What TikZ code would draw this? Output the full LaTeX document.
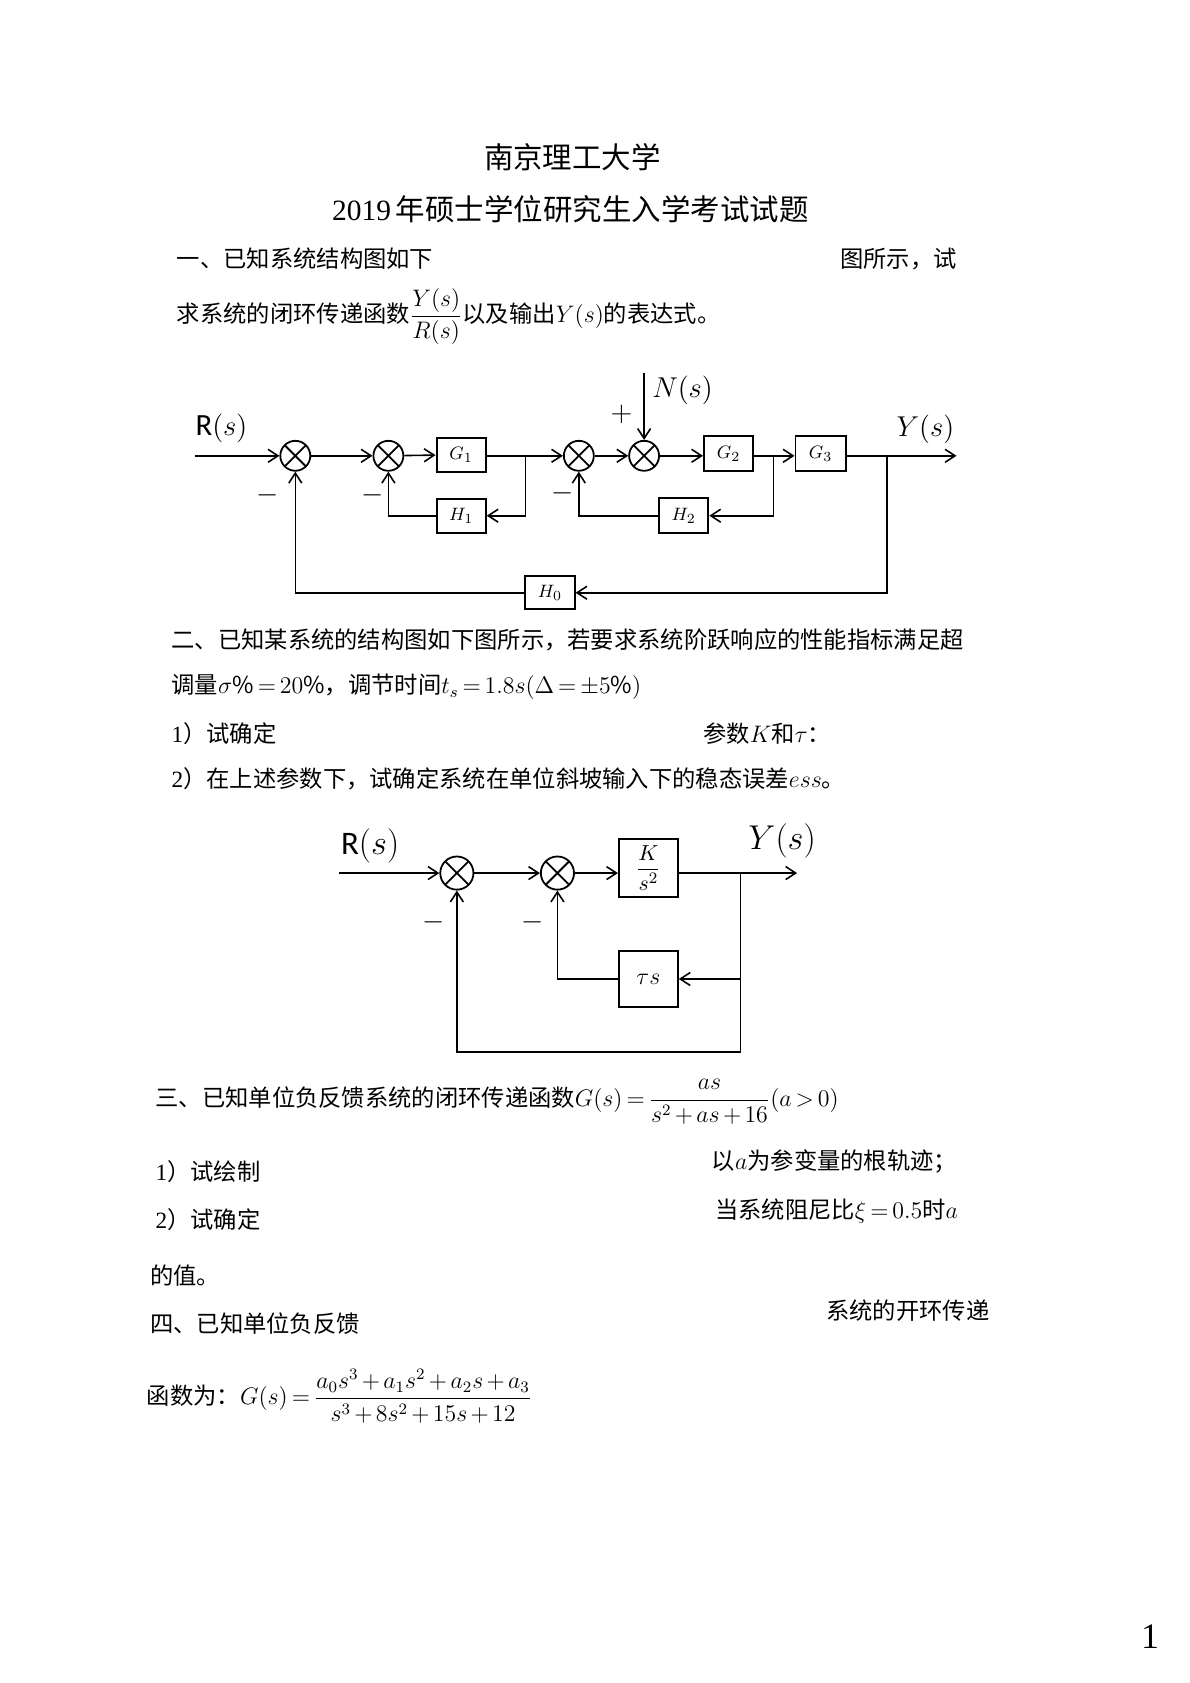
\documentclass[tikz,border=0pt]{standalone}
\usepackage{amsmath}
\usepackage{fontspec}
\setmainfont{Noto Sans CJK SC}
\newfontfamily\tnr{Liberation Serif}
\newfontfamily\carl{Carlito}
\usetikzlibrary{arrows.meta}
\newlength\pxu
\setlength\pxu{0.18885mm}
\thickmuskip=3mu plus 2mu
\medmuskip=2.5mu plus 1mu minus 1mu
\tikzset{
  x=0.18885mm, y=-0.18885mm,
  txt/.style={anchor=west, inner sep=0pt, font=\fontsize{11.7}{14}\selectfont},
  ttl/.style={inner sep=0pt, font=\fontsize{14.8}{17}\selectfont},
  wire/.style={line width=0.8pt},
  arr/.style={wire, -{Straight Barb[length=5pt,width=6.5pt,line width=0.8pt]}},
  blk/.style={draw, line width=1pt, inner sep=0pt, font=\fontsize{9.5}{11}\selectfont},
  sumj/.style={circle, draw, line width=0.9pt, inner sep=0pt, minimum size=#1\pxu,
    path picture={\draw[line width=0.9pt] (path picture bounding box.north west)--(path picture bounding box.south east)
      (path picture bounding box.north east)--(path picture bounding box.south west);}},
  sumj/.default=28,
  lbl/.style={inner sep=0pt, font=\fontsize{15.5}{18}\selectfont},
  mns/.style={inner sep=0pt, font=\fontsize{14}{16}\selectfont},
}
\begin{document}
\begin{tikzpicture}
\useasboundingbox[fill=white] (0,0) rectangle (1112,1573);

% ---------- titles ----------
\node[ttl] (t1) at (535,147) {南京理工大学};
\node[ttl] (t2) at (533,196) {{\tnr 2019}\,年硕士学位研究生入学考试试题};

% ---------- question 1 ----------
\node[txt] (q1a) at (165,242) {一、已知系统结构图如下};
\node[txt] (q1b) at (785,242) {图所示，试};
\node[txt] (q1c) at (165,296) {求系统的闭环传递函数$\dfrac{Y(s)}{R(s)}$以及输出$Y(s)$的表达式。};

% diagram 1
\coordinate (in1) at (182,426);
\node[sumj] (s1) at (276,426) {};
\node[sumj] (s2) at (363,426) {};
\node[blk, minimum width=46\pxu, minimum height=32\pxu] (g1) at (431,425) {$G_1$};
\coordinate (b1) at (491,426);
\node[sumj] (s3) at (541,426) {};
\node[sumj] (s4) at (602,426) {};
\coordinate (ntop) at (602,349);
\node[blk, minimum width=46\pxu, minimum height=33\pxu] (g2) at (681,424) {$G_2$};
\coordinate (b2) at (723,426);
\node[blk, minimum width=47\pxu, minimum height=33\pxu] (g3) at (767,424) {$G_3$};
\coordinate (b3) at (829,426);
\coordinate (out1) at (894,426);
\node[blk, minimum width=46\pxu, minimum height=32\pxu] (h1) at (431,482) {$H_1$};
\node[blk, minimum width=46\pxu, minimum height=33\pxu] (h2) at (639,482) {$H_2$};
\node[blk, minimum width=46\pxu, minimum height=31\pxu] (h0) at (514,554) {$H_0$};

\draw[arr] (in1) -- (s1);
\draw[arr] (s1) -- (s2);
\draw[arr] (s2) -- (g1);
\draw[arr] (g1.east |- b1) -- (s3);
\draw[arr] (s3) -- (s4);
\draw[arr] (ntop) -- (s4);
\draw[arr] (s4) -- (g2.west |- s4);
\draw[arr] (g2.east |- b2) -- (g3.west |- b2);
\draw[arr] (g3.east |- b3) -- (out1);
\draw[arr] (b1) |- (h1.east);
\draw[arr] (h1.west) -| (s2.south);
\draw[arr] (b2) |- (h2.east);
\draw[arr] (h2.west) -| (s3.south);
\draw[arr] (b3) |- (h0.east);
\draw[arr] (h0.west) -| (s1.south);

\node[lbl] (rl1) at (207,400) {{\carl R}$(s)$};
\node[lbl] (yl1) at (865,401) {$Y(s)$};
\node[lbl] (nl1) at (638,365) {$N(s)$};
\node[mns] (p4) at (581,387) {$+$};
\node[mns] (m1) at (250,463) {$-$};
\node[mns] (m2) at (348,463) {$-$};
\node[mns] (m3) at (526,461) {$-$};

% ---------- question 2 ----------
\node[txt] (q2a) at (160,598) {二、已知某系统的结构图如下图所示，若要求系统阶跃响应的性能指标满足超};
\node[txt] (q2b) at (160,642) {调量$\sigma\%=20\%$，调节时间$t_s=1.8s(\Delta=\pm5\%)$};
\node[txt] (q2c) at (160,686) {{\tnr 1}）试确定};
\node[txt] (q2d) at (657,686) {参数$K$和$\tau$：};
\node[txt] (q2e) at (160,728) {{\tnr 2}）在上述参数下，试确定系统在单位斜坡输入下的稳态误差$ess$。};

% diagram 2
\coordinate (in2) at (317,816);
\node[sumj=31] (u1) at (427,816) {};
\node[sumj=31] (u2) at (521,816) {};
\node[blk, minimum width=55\pxu, minimum height=54\pxu, font=\fontsize{11}{13}\selectfont] (kb) at (606,811) {$\dfrac{K}{s^2}$};
\coordinate (c2) at (692,816);
\coordinate (out2) at (745,816);
\node[blk, minimum width=55\pxu, minimum height=53\pxu, font=\fontsize{12}{14}\selectfont] (tb) at (606,915) {$\tau s$};
\coordinate (bot) at (692,983);

\draw[arr] (in2) -- (u1);
\draw[arr] (u1) -- (u2);
\draw[arr] (u2) -- (kb.west |- u2);
\draw[arr] (kb.east |- c2) -- (out2);
\draw[arr] (c2) |- (tb.east);
\draw[arr] (tb.west) -| (u2.south);
\draw[arr] (c2) -- (bot) -| (u1.south);

\node[lbl, font=\fontsize{16.5}{19}\selectfont] (rl2) at (346,791) {{\carl R}$(s)$};
\node[lbl, font=\fontsize{16.5}{19}\selectfont] (yl2) at (731,786) {$Y(s)$};
\node[mns] (m4) at (405,862) {$-$};
\node[mns] (m5) at (498,862) {$-$};

% ---------- question 3 ----------
\node[txt] (q3a) at (145,1030) {三、已知单位负反馈系统的闭环传递函数$G(s)=\dfrac{as}{s^2+as+16}(a>0)$};
\node[txt] (q3b) at (145,1095) {{\tnr 1}）试绘制};
\node[txt] (q3c) at (665,1086) {以$a$为参变量的根轨迹；};
\node[txt] (q3d) at (145,1140) {{\tnr 2}）试确定};
\node[txt] (q3e) at (668,1132) {当系统阻尼比$\xi=0.5$时$a$};
\node[txt] (q3f) at (140,1192) {的值。};

% ---------- question 4 ----------
\node[txt] (q4a) at (140,1237) {四、已知单位负反馈};
\node[txt] (q4b) at (772,1225) {系统的开环传递};
\node[txt] (q4c) at (137,1305) {函数为：$G(s)=\dfrac{a_0s^3+a_1s^2+a_2s+a_3}{s^3+8s^2+15s+12}$};

% page number
\node[inner sep=0pt, font=\tnr\fontsize{18}{20}\selectfont] (pg) at (1075,1530) {1};
\end{tikzpicture}
\end{document}
